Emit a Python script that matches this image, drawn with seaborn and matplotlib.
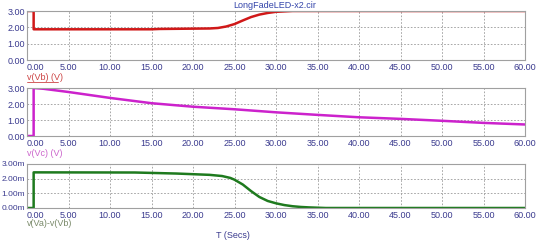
import numpy as np
import pandas as pd
import matplotlib
matplotlib.use("Agg")
import matplotlib.pyplot as plt
from matplotlib.lines import Line2D
import seaborn as sns

# ---- data ----
t_vb = [0, 0.8, 0.8, 5, 10, 15, 16, 20, 22, 23, 24, 25, 26, 27, 28, 29, 30, 32, 60]
v_vb = [3.0, 3.0, 1.88, 1.88, 1.88, 1.88, 1.9, 1.92, 1.93, 1.96, 2.05, 2.2, 2.42, 2.63, 2.78, 2.88, 2.95, 3.0, 3.0]

t_vc = [0, 0.8, 0.8, 2, 5, 10, 15, 20, 25, 30, 35, 40, 45, 50, 55, 60]
v_vc = [0, 0, 3.0, 2.95, 2.75, 2.38, 2.05, 1.83, 1.67, 1.48, 1.32, 1.17, 1.07, 0.95, 0.82, 0.72]

t_vab = [0, 0.8, 0.8, 13, 18, 22, 23.5, 24.5, 25, 26, 27, 28, 29, 30, 31, 32, 33, 34, 36, 60]
v_vab = [0, 0, 2.43, 2.42, 2.35, 2.26, 2.18, 2.05, 1.93, 1.6, 1.15, 0.75, 0.48, 0.32, 0.2, 0.12, 0.07, 0.04, 0.0, 0.0]

x_ticks = [0, 5, 10, 15, 20, 25, 30, 35, 40, 45, 50, 55, 60]
y_ticks = [0, 1, 2, 3]

title = "LongFadeLED-x2.cir"
labels = ["v(Vb) (V)", "v(Vc) (V)", "v(Va)-v(Vb)"]
xlabel = "T (Secs)"

sns.set_theme(style="white")
plt.rcParams['font.family'] = ['Liberation Sans', 'DejaVu Sans']

W, H = 540, 241
fig = plt.figure(figsize=(W/100, H/100), dpi=100)

tick_color = "#3b3b8f"
panels = [
    (t_vb, v_vb, "#d01818", 11, 60, "", labels[0], "#cc4444", 78, True),
    (t_vc, v_vc, "#cc22cc", 88, 136, "", labels[1], "#cc66cc", 153, False),
    (t_vab, v_vab, "#1e7a1e", 164, 208, "m", labels[2], "#7a8a6a", 223, False),
]
left, right = 27, 525
for (tt, vv, col, top, bot, suffix, lab, labcol, laby, underline) in panels:
    ax = fig.add_axes([left/W, 1-bot/H, (right-left)/W, (bot-top)/H])
    df = pd.DataFrame({"t": tt, "v": vv})
    sns.lineplot(data=df, x="t", y="v", ax=ax, color=col, lw=1.8, sort=False,
                 estimator=None)
    ax.set_xlim(0, 60)
    ax.set_ylim(0, 3)
    ax.set_xticks(x_ticks)
    ax.set_yticks(y_ticks)
    ax.set_xticklabels([f"{x:.2f}" for x in x_ticks])
    ax.set_yticklabels([f"{y:.2f}{suffix}" for y in y_ticks])
    ax.tick_params(length=0, colors=tick_color)
    ax.tick_params(axis="x", labelsize=6.5, pad=2)
    ax.tick_params(axis="y", labelsize=6 if suffix else 6.5, pad=1.5)
    ax.get_xticklabels()[0].set_ha("left")
    ax.grid(True, ls=(0, (2, 2)), color="#999999", lw=0.6)
    for s in ax.spines.values():
        s.set_color("#a0a0a0")
        s.set_linewidth(0.8)
    ax.set_xlabel("")
    ax.set_ylabel("")
    fig.text(left/W, 1-laby/H, lab, color=labcol, fontsize=6.5, va="center", ha="left")
    if underline:
        fig.add_artist(Line2D([left/W, 58/W], [1-(laby+4)/H, 1-(laby+4)/H],
                              color=labcol, lw=0.6, transform=fig.transFigure))

fig.text(275/W, 1-5/H, title, color="#3344aa", fontsize=6.5, ha="center", va="center")
fig.text(233/W, 1-236/H, xlabel, color="#3b3b8f", fontsize=6.5, ha="center", va="center")

fig.savefig("out.png", dpi=100)
